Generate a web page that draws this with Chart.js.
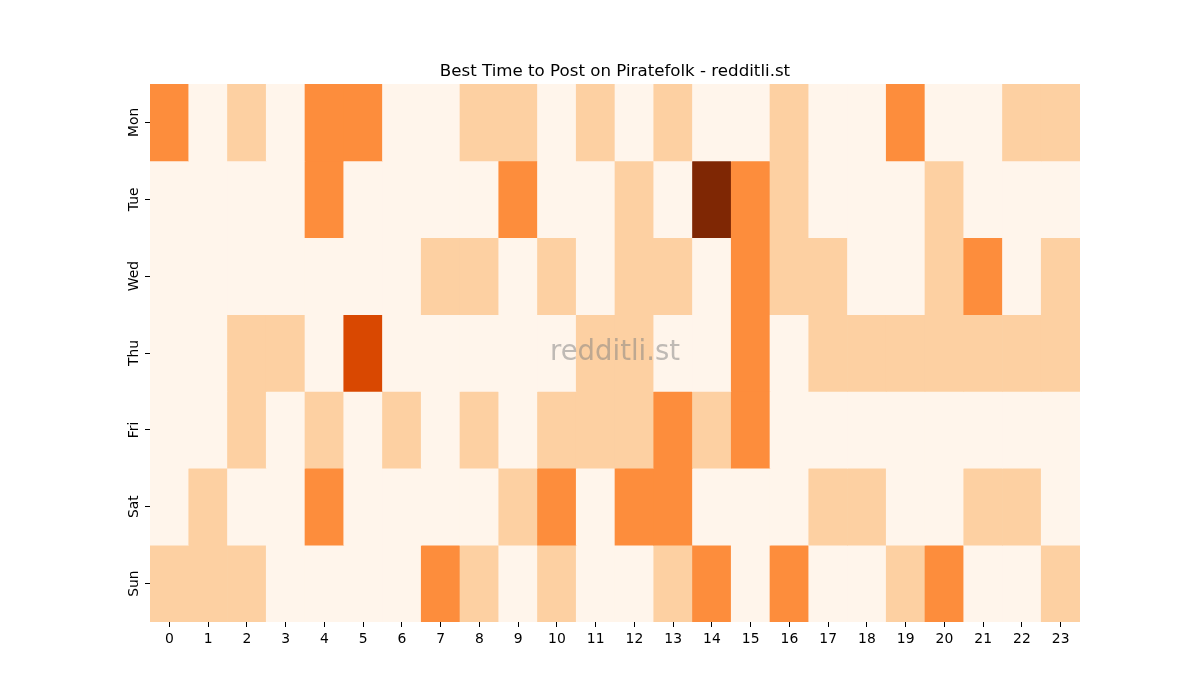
<!DOCTYPE html>
<html>
<head>
<meta charset="utf-8">
<script src="https://cdn.jsdelivr.net/npm/chart.js@4"></script>
<style>
  html, body { margin: 0; padding: 0; background: #ffffff; }
  #wrap { width: 1200px; height: 700px; }
</style>
</head>
<body>
<div id="wrap"><canvas id="c" width="1200" height="700"></canvas></div>
<script>
// ---- data ----
const days = ['Mon', 'Tue', 'Wed', 'Thu', 'Fri', 'Sat', 'Sun'];
const hours = ['0','1','2','3','4','5','6','7','8','9','10','11','12','13','14','15','16','17','18','19','20','21','22','23'];
const mon = [2,0,1,0,2,2,0,0,1,1,0,1,0,1,0,0,1,0,0,2,0,0,1,1];
const tue = [0,0,0,0,2,0,0,0,0,2,0,0,1,0,4,2,1,0,0,0,1,0,0,0];
const wed = [0,0,0,0,0,0,0,1,1,0,1,0,1,1,0,2,1,1,0,0,1,2,0,1];
const thu = [0,0,1,1,0,3,0,0,0,0,0,1,1,0,0,2,0,1,1,1,1,1,1,1];
const fri = [0,0,1,0,1,0,1,0,1,0,1,1,1,2,1,2,0,0,0,0,0,0,0,0];
const sat = [0,1,0,0,2,0,0,0,0,1,2,0,2,2,0,0,0,1,1,0,0,1,1,0];
const sun = [1,1,1,0,0,0,0,2,1,0,1,0,0,1,2,0,2,0,0,1,2,0,0,1];
const rows = [mon, tue, wed, thu, fri, sat, sun];
const titleText = 'Best Time to Post on Piratefolk - redditli.st';
const watermarkText = 'redditli.st';

// ---- style ----
const palette = ['#fff5eb', '#fdd0a2', '#fd8d3c', '#d94801', '#7f2704'];
const FONT = 'DejaVu Sans';

const datasets = rows.map((vals, d) => ({
  label: days[d],
  data: vals.map(() => [d - 0.5, d + 0.5]),
  backgroundColor: vals.map(v => palette[v]),
  borderWidth: 0,
  barPercentage: 1,
  categoryPercentage: 1,
  grouped: false
}));

const watermark = {
  id: 'watermark',
  afterDatasetsDraw(chart) {
    const a = chart.chartArea;
    const ctx = chart.ctx;
    ctx.save();
    ctx.font = '27.5px "' + FONT + '"';
    ctx.fillStyle = 'rgba(128,128,128,0.5)';
    ctx.textAlign = 'center';
    ctx.textBaseline = 'middle';
    ctx.fillText(watermarkText, (a.left + a.right) / 2, (a.top + a.bottom) / 2);
    ctx.restore();
  }
};

new Chart(document.getElementById('c'), {
  type: 'bar',
  data: { labels: hours, datasets },
  plugins: [watermark],
  options: {
    responsive: false,
    animation: false,
    devicePixelRatio: 1,
    layout: { padding: { left: 0, right: 120, top: 0, bottom: 0 } },
    plugins: {
      legend: { display: false },
      tooltip: { enabled: false },
      title: {
        display: true,
        fullSize: false,
        text: titleText,
        color: '#000000',
        font: { family: FONT, size: 16.67, weight: 'normal', lineHeight: 1.2 },
        padding: { top: 62, bottom: 2 }
      }
    },
    scales: {
      x: {
        type: 'category',
        offset: true,
        border: { display: false },
        grid: { display: true, drawOnChartArea: false, drawTicks: true, tickLength: 5, tickWidth: 1, tickColor: '#000000', offset: false },
        ticks: { color: '#000000', font: { family: FONT, size: 13.9 }, padding: 4, maxRotation: 0, minRotation: 0, autoSkip: false },
        afterFit(scale) { scale.height = 78; }
      },
      y: {
        type: 'linear',
        min: -0.5,
        max: 6.5,
        reverse: true,
        border: { display: false },
        grid: { display: true, drawOnChartArea: false, drawTicks: true, tickLength: 5, tickWidth: 1, tickColor: '#000000' },
        afterBuildTicks(scale) { scale.ticks = days.map((_, i) => ({ value: i })); },
        ticks: {
          color: '#000000',
          font: { family: FONT, size: 13.9 },
          minRotation: 90,
          maxRotation: 90,
          crossAlign: 'center',
          padding: -5,
          autoSkip: false,
          callback: (v) => days[v]
        },
        afterFit(scale) { scale.width = 150; }
      }
    }
  }
});
</script>
</body>
</html>
